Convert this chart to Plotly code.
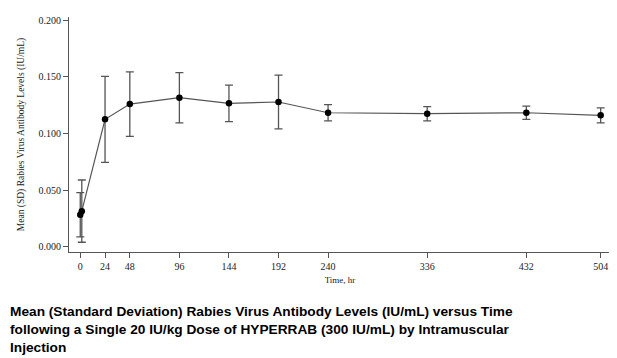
import plotly.graph_objects as go

time_hr = [0, 1.5, 24, 48, 96, 144, 192, 240, 336, 432, 504]
mean_iu = [0.0282, 0.0314, 0.1125, 0.1260, 0.1316, 0.1266, 0.1278, 0.1183, 0.1175, 0.1183, 0.1160]
sd_iu = [0.0196, 0.0275, 0.0380, 0.0285, 0.0222, 0.0162, 0.0237, 0.0072, 0.0063, 0.0059, 0.0066]

x_ticks = [0, 24, 48, 96, 144, 192, 240, 336, 432, 504]
y_ticks = [0.0, 0.05, 0.10, 0.15, 0.20]
y_tick_labels = ["0.000", "0.050", "0.100", "0.150", "0.200"]

caption = ("<b>Mean (Standard Deviation) Rabies Virus Antibody Levels (IU/mL) versus Time<br>"
           "following a Single 20 IU/kg Dose of HYPERRAB (300 IU/mL) by Intramuscular<br>"
           "Injection</b>")

serif = "Liberation Serif, Times New Roman, serif"

fig = go.Figure()
fig.add_trace(go.Scatter(
    x=time_hr, y=mean_iu, mode="lines+markers",
    line=dict(color="#555555", width=1.2),
    marker=dict(color="black", size=6.5),
    error_y=dict(type="data", array=sd_iu, visible=True, color="#555555", thickness=1.3, width=4),
    showlegend=False,
))

# page body has an 8px margin: figure is sized/offset to compensate
fig.update_layout(
    width=609, height=350,
    margin=dict(l=61, r=6, t=9, b=106),
    paper_bgcolor="white", plot_bgcolor="white",
    xaxis=dict(
        range=[-10.9, 514], tickvals=x_ticks, ticktext=[str(v) for v in x_ticks],
        showgrid=False, zeroline=False, showline=True, linecolor="#555555", linewidth=1,
        ticks="outside", ticklen=5, tickcolor="#555555",
        tickfont=dict(family=serif, size=10, color="#222222"),
        title=dict(text="Time, hr", font=dict(family=serif, size=9, color="#222222"), standoff=5),
    ),
    yaxis=dict(
        range=[-0.0047, 0.2029], tickvals=y_ticks, ticktext=y_tick_labels,
        showgrid=False, zeroline=False, showline=True, linecolor="#555555", linewidth=1,
        ticks="outside", ticklen=5, tickcolor="#555555",
        tickfont=dict(family=serif, size=10, color="#222222"),
        title=dict(text="Mean (SD) Rabies Virus Antibody Levels (IU/mL)",
                   font=dict(family=serif, size=9.5, color="#222222"), standoff=12),
    ),
    annotations=[dict(
        text=caption, xref="paper", yref="paper", x=-61/542, y=-50/235,
        xanchor="left", yanchor="top", align="left", showarrow=False,
        font=dict(family="Liberation Sans, Arial, sans-serif", size=13.7, color="black"),
    )],
)

fig.write_html("out.html")
